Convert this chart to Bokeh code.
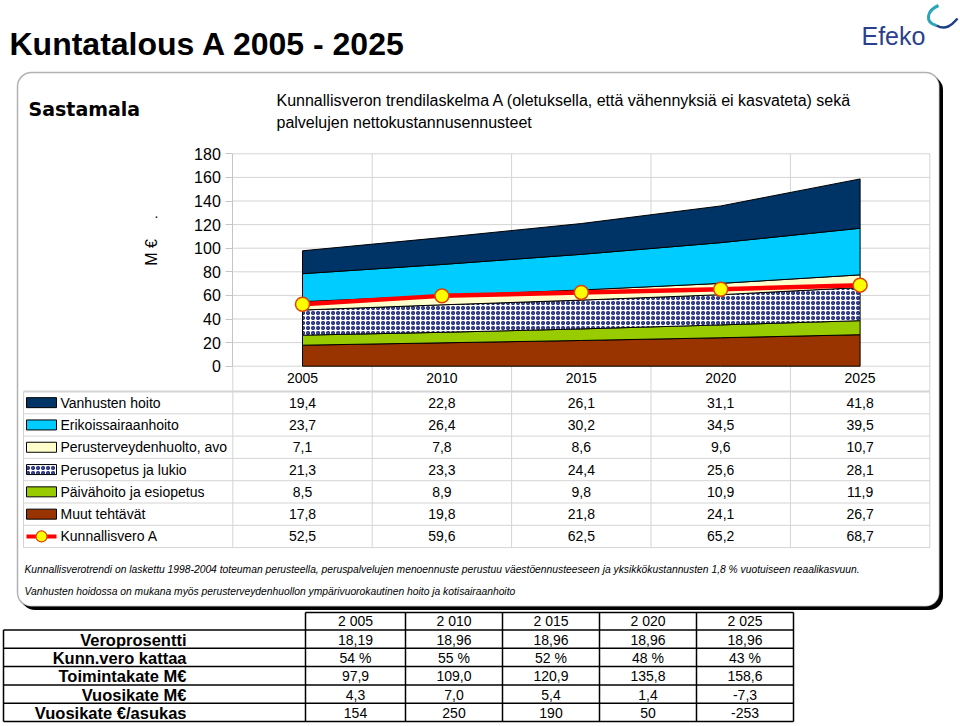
import numpy as np
from bokeh.plotting import figure
from bokeh.models import Range1d, LinearAxis, FixedTicker, BoxAnnotation
from bokeh.core.properties import value
from bokeh.embed import file_html
from bokeh.resources import INLINE

# ---------------- data ----------------
years = [2005, 2010, 2015, 2020, 2025]
vanhusten_hoito = [19.4, 22.8, 26.1, 31.1, 41.8]
erikoissairaanhoito = [23.7, 26.4, 30.2, 34.5, 39.5]
perusterveydenhuolto = [7.1, 7.8, 8.6, 9.6, 10.7]
perusopetus = [21.3, 23.3, 24.4, 25.6, 28.1]
paivahoito = [8.5, 8.9, 9.8, 10.9, 11.9]
muut_tehtavat = [17.8, 19.8, 21.8, 24.1, 26.7]
kunnallisvero_a = [52.5, 59.6, 62.5, 65.2, 68.7]
y_ticks = [0, 20, 40, 60, 80, 100, 120, 140, 160, 180]

series_labels = ["Vanhusten hoito", "Erikoissairaanhoito", "Perusterveydenhuolto, avo",
                 "Perusopetus ja lukio", "Päivähoito ja esiopetus", "Muut tehtävät",
                 "Kunnallisvero A"]

table_years = ["2 005", "2 010", "2 015", "2 020", "2 025"]
table_rows = ["Veroprosentti", "Kunn.vero kattaa", "Toimintakate M€", "Vuosikate M€",
              "Vuosikate €/asukas"]
veroprosentti = [18.19, 18.96, 18.96, 18.96, 18.96]
kunnallisvero_kattaa = [54, 55, 52, 48, 43]
toimintakate = [97.9, 109.0, 120.9, 135.8, 158.6]
vuosikate = [4.3, 7.0, 5.4, 1.4, -7.3]
vuosikate_asukas = [154, 250, 190, 50, -253]

# ---------------- layout helpers (page pixels -> data) ----------------
PX0, PXS = 302.0, 27.88    # x pixel of 2005, pixels per year
PY0, PYS = 365.7, 1.18     # y pixel of 0, pixels per M€
W, H = 960, 726


def X(px):
    return 2005 + (px - PX0) / PXS


def Y(py):
    return (PY0 - py) / PYS


FONT = "Liberation Sans"


def fi(v, d=1):
    return f"{v:.{d}f}".replace(".", ",")


p = figure(width=W, height=H, x_range=Range1d(X(0), X(W)), y_range=Range1d(Y(H), Y(0)),
           x_axis_type=None, y_axis_type=None, toolbar_location=None, output_backend="svg",
           min_border=0, min_border_left=0, min_border_right=0, min_border_top=0,
           min_border_bottom=0)
p.outline_line_color = None
p.background_fill_color = "white"
p.border_fill_color = "white"


def txt(px, py, s, size, style="normal", align="left", baseline="middle", color="black",
        font=FONT, angle=0.0):
    p.text(x=[X(px)], y=[Y(py)], text=[s], text_font=value(font), text_font_size=f"{size}px",
           text_font_style=style, text_align=align, text_baseline=baseline, text_color=color,
           angle=angle)


# ---------------- rounded panel with shadow ----------------
p.add_layout(BoxAnnotation(left=X(20.5), right=X(942.5), top=Y(75.5), bottom=Y(609.5),
                           border_radius=14, fill_color="black", fill_alpha=1,
                           line_color=None, level="underlay"))
p.add_layout(BoxAnnotation(left=X(17), right=X(939), top=Y(72), bottom=Y(606),
                           border_radius=14, fill_color="white", fill_alpha=1,
                           line_color="black", line_width=1.5, level="underlay"))

# ---------------- titles ----------------
txt(9, 43, "Kuntatalous A 2005 - 2025", 32, style="bold")
txt(28, 108, "Sastamala", 19, style="bold", font="DejaVu Sans")
txt(276, 100, "Kunnallisveron trendilaskelma A (oletuksella, että vähennyksiä ei kasvateta) sekä",
    16)
txt(276, 122, "palvelujen nettokustannusennusteet", 16)

# logo
txt(861, 35, "Efeko", 25, color="#2b3f8e")
p.bezier(x0=[X(938)], y0=[Y(5)], x1=[X(936)], y1=[Y(25)], cx0=[X(926)], cy0=[Y(10)],
         cx1=[X(924)], cy1=[Y(22)], line_color="#2aa6b8", line_width=3)
p.bezier(x0=[X(936)], y0=[Y(25)], x1=[X(957)], y1=[Y(18)], cx0=[X(945)], cy0=[Y(30)],
         cx1=[X(951)], cy1=[Y(25)], line_color="#1f3f8a", line_width=2.5)

# ---------------- grid & table lines ----------------
GRID = "#d4d4d4"
col_bounds = [y - 2.5 for y in years] + [years[-1] + 2.5]
p.segment(x0=[col_bounds[0]] * len(y_ticks), x1=[col_bounds[-1]] * len(y_ticks),
          y0=y_ticks, y1=y_ticks, line_color=GRID, line_width=1)
table_top, row_h = 391.0, 22.3
row_lines = [table_top + i * row_h for i in range(8)]
p.segment(x0=col_bounds[1:], x1=col_bounds[1:], y0=[max(y_ticks)] * 5,
          y1=[Y(row_lines[-1])] * 5, line_color=GRID, line_width=1)
p.segment(x0=[col_bounds[0]], x1=[col_bounds[0]], y0=[0], y1=[Y(row_lines[-1])],
          line_color=GRID, line_width=1)
p.segment(x0=[X(23)] * 8, x1=[col_bounds[-1]] * 8, y0=[Y(r) for r in row_lines],
          y1=[Y(r) for r in row_lines], line_color=GRID,
          line_width=[2] + [1] * 7)
p.segment(x0=[X(23)], x1=[X(23)], y0=[Y(row_lines[0])], y1=[Y(row_lines[-1])],
          line_color=GRID, line_width=1)

# ---------------- stacked areas ----------------
HATCH = dict(hatch_pattern="ring", hatch_color="#1f2a7a", hatch_scale=5, hatch_weight=1.6)
stack_order = [  # bottom to top
    (muut_tehtavat, "#993300", False),
    (paivahoito, "#99cc00", False),
    (perusopetus, "#ffffff", True),
    (perusterveydenhuolto, "#ffffcc", False),
    (erikoissairaanhoito, "#00ccff", False),
    (vanhusten_hoito, "#003366", False),
]
base = np.zeros(len(years))
for vals, col, hatch in stack_order:
    top = base + np.array(vals)
    xs = list(years) + list(years[::-1])
    ys = list(top) + list(base[::-1])
    kw = HATCH if hatch else {}
    p.patch(xs, ys, fill_color=col, line_color="black", line_width=1, **kw)
    base = top

p.line(years, kunnallisvero_a, line_color="#ff0000", line_width=4.5)
p.scatter(years, kunnallisvero_a, size=14, fill_color="#ffff00", line_color="#e04000",
          line_width=1.5)

# ---------------- axes ----------------
yax = LinearAxis(fixed_location=col_bounds[0], bounds=(0, 180), ticker=FixedTicker(ticks=y_ticks),
                 axis_line_color="#c4c4c4", major_tick_line_color="#c4c4c4", major_tick_out=7,
                 major_tick_in=0, minor_tick_line_color=None, major_label_text_font=FONT,
                 major_label_text_font_size="16px", major_label_standoff=5,
                 major_label_text_font_style="normal", major_label_text_color="black")
p.add_layout(yax, "left")
xax = LinearAxis(fixed_location=0, bounds=(2005, 2025), ticker=FixedTicker(ticks=years),
                 axis_line_color=None, major_tick_line_color=None, minor_tick_line_color=None,
                 major_label_text_font=FONT, major_label_text_font_size="14px",
                 major_label_text_font_style="normal",
                 major_label_standoff=1, major_label_text_color="black")
p.add_layout(xax, "below")

txt(151, 252, "M €", 16, align="center", angle=np.pi / 2)
txt(156, 212, ".", 14, align="center")

# ---------------- data table with legend ----------------
table_series = [vanhusten_hoito, erikoissairaanhoito, perusterveydenhuolto, perusopetus,
                paivahoito, muut_tehtavat, kunnallisvero_a]
swatch_cols = ["#003366", "#00ccff", "#ffffcc", "#ffffff", "#99cc00", "#993300"]
for i, (lab, vals) in enumerate(zip(series_labels, table_series)):
    rc = table_top + (i + 0.5) * row_h
    txt(60, rc, lab, 14)
    p.text(x=years, y=[Y(rc)] * len(years), text=[fi(v) for v in vals],
           text_font=value(FONT), text_font_size="14px", text_align="center",
           text_baseline="middle", text_color="black")
    if i < 6:
        kw = HATCH if i == 3 else {}
        p.quad(left=[X(26)], right=[X(56)], top=[Y(rc - 5)], bottom=[Y(rc + 5)],
               fill_color=swatch_cols[i], line_color="black", line_width=1, **kw)
    else:
        p.segment(x0=[X(26)], x1=[X(56)], y0=[Y(rc)], y1=[Y(rc)], line_color="#ff0000",
                  line_width=4)
        p.scatter(x=[X(41)], y=[Y(rc)], size=11, fill_color="#ffff00", line_color="#e04000",
                  line_width=1.2)

# ---------------- footnotes ----------------
txt(24, 569, "Kunnallisverotrendi on laskettu 1998-2004 toteuman perusteella, peruspalvelujen "
    "menoennuste perustuu väestöennusteeseen ja yksikkökustannusten 1,8 % vuotuiseen "
    "reaalikasvuun.", 10.3, style="italic")
txt(24, 591, "Vanhusten hoidossa on mukana myös perusterveydenhuollon ympärivuorokautinen hoito "
    "ja kotisairaanhoito", 10.3, style="italic")

# ---------------- bottom key figures table ----------------
bcols = [305, 405, 502, 599, 696, 793]
bcent = [(a + b) / 2 for a, b in zip(bcols[:-1], bcols[1:])]
b_head_top = 612.0
b_top, b_h = 629.5, 18.3
b_lines = [b_top + i * b_h for i in range(6)]
LX = 3
# horizontal lines
p.segment(x0=[X(bcols[0])], x1=[X(bcols[-1])], y0=[Y(b_head_top)], y1=[Y(b_head_top)],
          line_color="black", line_width=1.5)
p.segment(x0=[X(LX)] * 6, x1=[X(bcols[-1])] * 6, y0=[Y(r) for r in b_lines],
          y1=[Y(r) for r in b_lines], line_color="black", line_width=1.5)
# vertical lines
p.segment(x0=[X(c) for c in bcols], x1=[X(c) for c in bcols], y0=[Y(b_head_top)] * 6,
          y1=[Y(b_lines[-1])] * 6, line_color="black", line_width=1.5)
p.segment(x0=[X(LX)], x1=[X(LX)], y0=[Y(b_lines[0])], y1=[Y(b_lines[-1])],
          line_color="black", line_width=1.5)

b_values = [
    [fi(v, 2) for v in veroprosentti],
    [f"{v} %" for v in kunnallisvero_kattaa],
    [fi(v) for v in toimintakate],
    [fi(v) for v in vuosikate],
    [str(v) for v in vuosikate_asukas],
]
p.text(x=[X(c) for c in bcent], y=[Y((b_head_top + b_top) / 2)] * 5, text=table_years,
       text_font=value(FONT), text_font_size="14px", text_align="center",
       text_baseline="middle")
for j, (lab, vals) in enumerate(zip(table_rows, b_values)):
    rc = b_top + (j + 0.5) * b_h
    txt(186, rc + 0.5, lab, 16.5, style="bold", align="right")
    p.text(x=[X(c) for c in bcent], y=[Y(rc + 0.5)] * 5, text=vals,
           text_font=value(FONT), text_font_size="14px", text_align="center",
           text_baseline="middle")

open("out.html", "w").write(file_html(p, INLINE))
